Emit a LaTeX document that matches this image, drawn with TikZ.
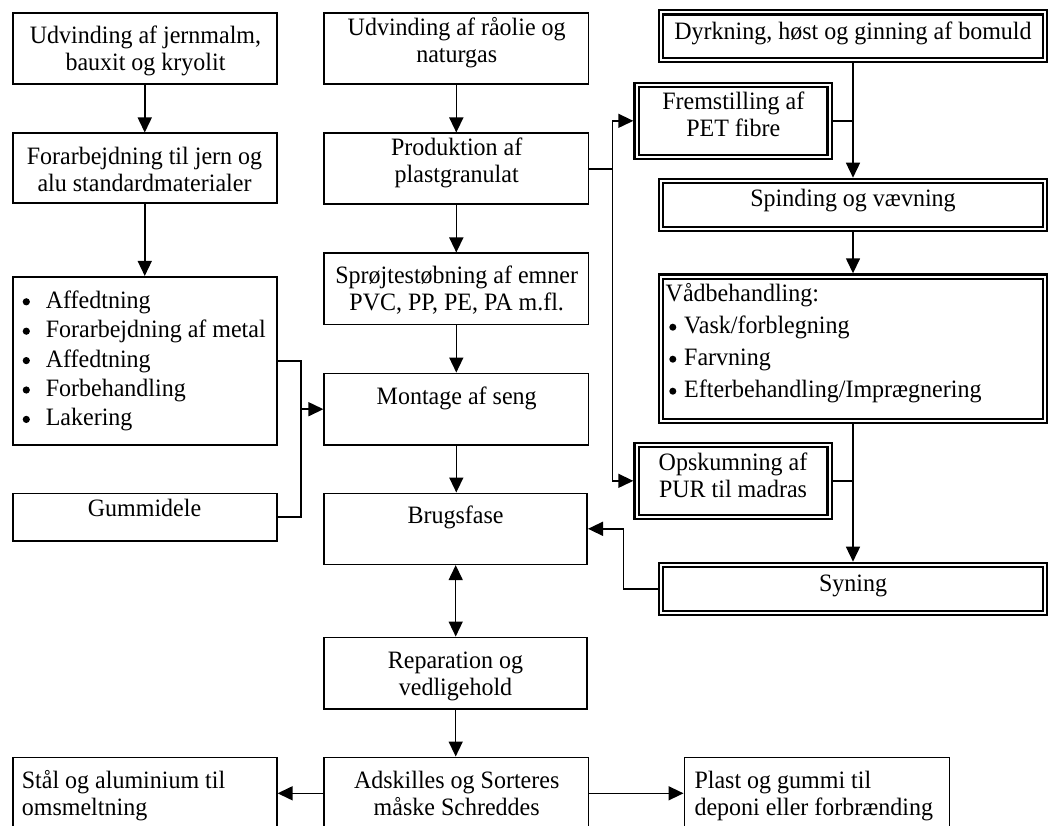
\documentclass[tikz,border=0pt]{standalone}
\usepackage{fontspec}
\setmainfont{Liberation Serif}[FakeStretch=0.96]
\usetikzlibrary{arrows.meta}
\newcommand\ctab[1]{\begin{tabular}[t]{@{}c@{}}#1\end{tabular}}
\newcommand\ltab[1]{\begin{tabular}[t]{@{}l@{}}#1\end{tabular}}
\begin{document}
\begin{tikzpicture}[x=1pt,y=-1pt,
  box/.style={draw, line width=1.6pt, rectangle, inner sep=0pt},
  dbox/.style={draw, double, double distance=2pt, line width=2.2pt, rectangle, inner sep=0pt, outer sep=3.2pt},
  txt/.style={inner sep=0pt, anchor=base, font=\fontsize{25}{27}\selectfont},
  ltxt/.style={txt, anchor=base west},
  conn/.style={line width=1.5pt},
  arr/.style={conn, -{Triangle[length=15pt,width=14pt]}},
  arrd/.style={conn, {Triangle[length=15pt,width=14pt]}-{Triangle[length=15pt,width=14pt]}},
  dot/.style={fill=black}
]
\useasboundingbox (0,0) rectangle (1054,826);
\clip (0,0) rectangle (1054,826);
\fill[white] (0,0) rectangle (1054,826);

% left column
\node[box, minimum width=264.1pt, minimum height=71pt]    (A) at (144.75,48.8)  {};
\node[box, minimum width=264.1pt, minimum height=70pt]    (B) at (144.75,168.3) {};
\node[box, minimum width=264.1pt, minimum height=168.3pt] (C) at (144.75,360.9) {};
\node[box, minimum width=264.1pt, minimum height=47.4pt]  (D) at (144.75,517)   {};
\node[box, minimum width=264.1pt, minimum height=72pt]    (L) at (144.75,793.3) {};

% middle column
\node[box, minimum width=264.2pt, minimum height=71pt]   (E) at (456.3,48.8)  {};
\node[box, minimum width=264.2pt, minimum height=71pt]   (F) at (456.3,168.8) {};
\node[box, minimum width=264.2pt, minimum height=71pt]   (G) at (456.3,288.8) {};
\node[box, minimum width=264.2pt, minimum height=71.7pt] (H) at (456.3,409.2) {};
\node[box, minimum width=263pt,   minimum height=71pt]   (I) at (455.7,528.8) {};
\node[box, minimum width=263pt,   minimum height=71.7pt] (J) at (455.7,673.2) {};
\node[box, minimum width=264.2pt, minimum height=72pt]   (K) at (456.3,793.3) {};

% bottom right
\node[box, minimum width=265pt, minimum height=72pt] (M) at (816.8,793.3) {};

% right column (double frames)
\node[dbox, minimum width=384.2pt, minimum height=47.6pt]  (N) at (853,36.3)   {};
\node[dbox, minimum width=193pt,   minimum height=72pt]    (O) at (733,120.85) {};
\node[dbox, minimum width=384.2pt, minimum height=48.2pt]  (P) at (853,205)    {};
\node[dbox, minimum width=384.2pt, minimum height=144.3pt] (Q) at (853,348.65) {};
\node[dbox, minimum width=193pt,   minimum height=72pt]    (R) at (733,480.85) {};
\node[dbox, minimum width=384.2pt, minimum height=47.9pt]  (S) at (853,588.85) {};

% texts
\node[txt] (At) at (145.5,43.8) {\ctab{Udvinding af jernmalm,\\bauxit og kryolit}};
\node[txt] (Bt) at (144.5,164.3) {\ctab{Forarbejdning til jern og\\alu standardmaterialer}};
\node[ltxt, font=\fontsize{25}{29.4}\selectfont] (Ct) at (45.6,308.3)
  {\ltab{Affedtning\\Forarbejdning af metal\\Affedtning\\Forbehandling\\Lakering}};
\node[txt] (Dt) at (144.5,516.7) {Gummidele};
\node[txt] (Et) at (456.7,35.5) {\ctab{Udvinding af råolie og\\naturgas}};
\node[txt] (Ft) at (456.7,155.5) {\ctab{Produktion af\\plastgranulat}};
\node[txt] (Gt) at (456.7,283.5) {\ctab{Sprøjtestøbning af emner\\PVC, PP, PE, PA m.fl.}};
\node[txt] (Ht) at (456.7,404) {Montage af seng};
\node[txt] (It) at (455.5,523.8) {Brugsfase};
\node[txt] (Jt) at (455.5,668.5) {\ctab{Reparation og\\vedligehold}};
\node[txt] (Kt) at (456.7,788) {\ctab{Adskilles og Sorteres\\måske Schreddes}};
\node[ltxt] (Lt) at (21.7,788) {\ltab{Stål og aluminium til\\omsmeltning}};
\node[ltxt] (Mt) at (694.3,788) {\ltab{Plast og gummi til\\deponi eller forbrænding}};
\node[txt] (Nt) at (853,39.5) {Dyrkning, høst og ginning af bomuld};
\node[txt] (Ot) at (733.3,110) {\ctab{Fremstilling af\\PET fibre}};
\node[txt] (Pt) at (853,206.7) {Spinding og vævning};
\node[ltxt, font=\fontsize{25}{32}\selectfont] (Qt) at (665.5,301.7)
  {\ltab{Vådbehandling:\\\hspace*{18.5pt}Vask/forblegning\\\hspace*{18.5pt}Farvning\\\hspace*{18.5pt}Efterbehandling/Imprægnering}};
\node[txt] (Rt) at (733,470.7) {\ctab{Opskumning af\\PUR til madras}};
\node[txt] (St) at (853,591.7) {Syning};

% list bullets
\foreach \k in {0,...,4} \fill[dot] (26.3,301.8+29.4*\k) circle (3.6pt);
\foreach \k in {1,2,3} \fill[dot] (672.8,295.2+32*\k) circle (3.5pt);

% connectors left/middle
\draw[arr] (A.south) -- (B.north);
\draw[arr] (B.south) -- (C.north);
\draw[arr] (E.south) -- (F.north);
\draw[arr] (F.south) -- (G.north);
\draw[arr] (G.south) -- (H.north);
\path (H.west) ++(-22.2,0) coordinate (jH);
\draw[conn] (C.east) -| (jH);
\draw[conn] (D.east) -| (jH);
\draw[arr] (jH) -- (H.west);
\draw[arr] (H.south) -- (H.south |- I.north);
\draw[arrd] (I.south) -- (J.north);
\draw[arr] (J.south) -- (J.south |- K.north);
\draw[arr] (K.west) -- (L.east);
\draw[arr] (K.east) -- (M.west);

% connectors to right column
\path (F.east) ++(23.2,0) coordinate (jF);
\draw[conn] (F.east) -- (jF);
\draw[arr] (jF) |- (O.west);
\draw[arr] (jF) |- (R.west);
\draw[arr] (N.south) -- (P.north);
\draw[conn] (O.east) -- (O.east -| N.south);
\draw[arr] (P.south) -- (Q.north);
\draw[arr] (Q.south) -- (S.north);
\draw[conn] (R.east) -- (R.east -| Q.south);
\draw[arr] (S.west) -- ++(-34.4,0) |- (I.east);
\end{tikzpicture}
\end{document}
